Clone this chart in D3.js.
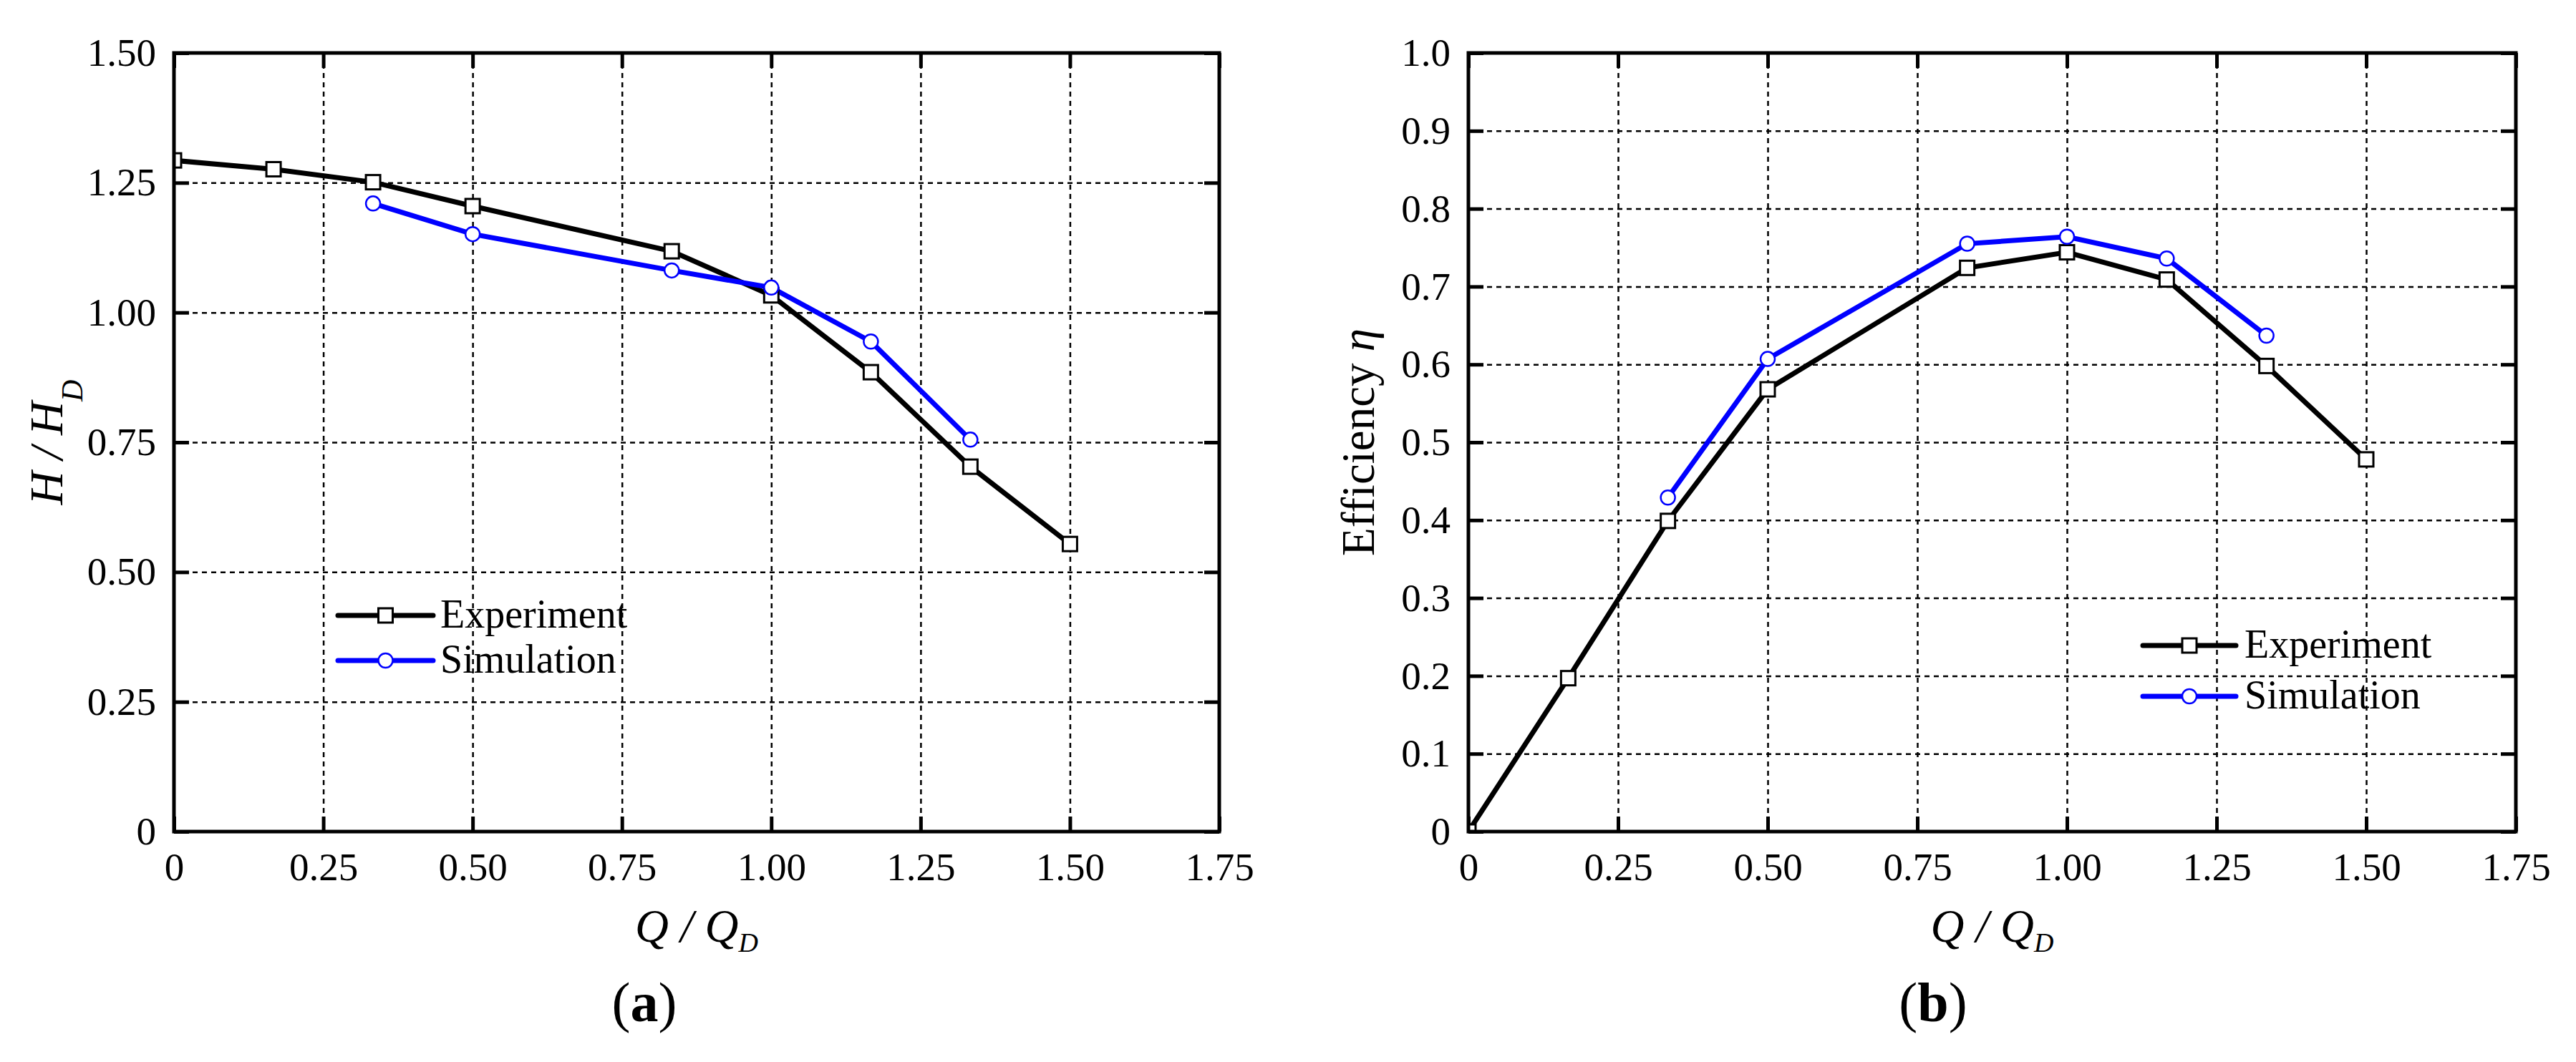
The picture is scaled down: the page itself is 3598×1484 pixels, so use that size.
<!DOCTYPE html>
<html>
<head>
<meta charset="utf-8">
<script src="https://cdn.jsdelivr.net/npm/d3@7"></script>
<style>
  body { margin: 0; background: #fff; }
  text { font-family: "Liberation Serif", "Times New Roman", serif; fill: #000; }
</style>
</head>
<body>
<div id="wrapper"></div>
<script>
// flow ratio Q/QD at the measured points
const flowExperiment = [0, 0.1667, 0.3333, 0.5, 0.8333, 1.0, 1.1667, 1.3333, 1.5];
const flowSimulation = [0.3333, 0.5, 0.8333, 1.0, 1.1667, 1.3333];

// (a) head ratio H/HD
const headExperiment = [1.293, 1.276, 1.251, 1.205, 1.118, 1.033, 0.885, 0.703, 0.554];
const headSimulation = [1.21, 1.151, 1.081, 1.048, 0.944, 0.755];

// (b) efficiency
const effExperiment = [0, 0.197, 0.399, 0.568, 0.724, 0.744, 0.709, 0.598, 0.478];
const effSimulation = [0.429, 0.607, 0.755, 0.764, 0.736, 0.637];

const xTicks = [0, 0.25, 0.5, 0.75, 1.0, 1.25, 1.5, 1.75];
const headTicks = [0, 0.25, 0.5, 0.75, 1.0, 1.25, 1.5];
const effTicks = [0, 0.1, 0.2, 0.3, 0.4, 0.5, 0.6, 0.7, 0.8, 0.9, 1.0];

const seriesNames = ["Experiment", "Simulation"];
const panelLabels = ["a", "b"];

const width = 3598;
const height = 1484;

const svg = d3
  .select("#wrapper")
  .append("svg")
  .attr("width", width)
  .attr("height", height);

svg.append("rect").attr("width", width).attr("height", height).attr("fill", "#fff");

const zip = (xs, ys) => xs.map((x, i) => ({ x, y: ys[i] }));

const drawPanel = (cfg, idx) => {
  const dims = {
    left: cfg.left,
    top: 74,
    w: cfg.right - cfg.left,
    h: 1162 - 74,
  };

  const xScale = d3.scaleLinear().domain([0, 1.75]).range([0, dims.w]);
  const yScale = d3.scaleLinear().domain(cfg.yDomain).range([dims.h, 0]);

  const g = svg
    .append("g")
    .attr("transform", `translate(${dims.left},${dims.top})`);

  const clipId = "clip-" + idx;
  g.append("clipPath")
    .attr("id", clipId)
    .append("rect")
    .attr("width", dims.w)
    .attr("height", dims.h);

  // dashed grid
  const xGrid = g
    .append("g")
    .attr("transform", `translate(0,${dims.h})`)
    .call(d3.axisBottom(xScale).tickValues(xTicks).tickSize(-dims.h).tickFormat(""));
  const yGrid = g
    .append("g")
    .call(d3.axisLeft(yScale).tickValues(cfg.yTicks).tickSize(-dims.w).tickFormat(""));
  [xGrid, yGrid].forEach((grid) => {
    grid.select(".domain").remove();
    grid
      .selectAll(".tick line")
      .attr("stroke", "#000")
      .attr("stroke-width", 2.5)
      .attr("stroke-dasharray", "7,6");
  });

  // inward ticks on all four sides
  const tickLen = 21;
  const tickAxes = [
    g.append("g").attr("transform", `translate(0,${dims.h})`)
      .call(d3.axisBottom(xScale).tickValues(xTicks).tickSize(-tickLen).tickFormat("")),
    g.append("g")
      .call(d3.axisTop(xScale).tickValues(xTicks).tickSize(-tickLen).tickFormat("")),
    g.append("g")
      .call(d3.axisLeft(yScale).tickValues(cfg.yTicks).tickSize(-tickLen).tickFormat("")),
    g.append("g").attr("transform", `translate(${dims.w},0)`)
      .call(d3.axisRight(yScale).tickValues(cfg.yTicks).tickSize(-tickLen).tickFormat("")),
  ];
  tickAxes.forEach((a) => {
    a.select(".domain").remove();
    a.selectAll(".tick line").attr("stroke", "#000").attr("stroke-width", 5);
  });

  // tick labels
  const xLabels = g
    .append("g")
    .attr("transform", `translate(0,${dims.h})`)
    .call(
      d3.axisBottom(xScale).tickValues(xTicks).tickSize(0).tickPadding(29)
        .tickFormat((d) => (d === 0 ? "0" : d.toFixed(2)))
    );
  const yLabels = g
    .append("g")
    .call(
      d3.axisLeft(yScale).tickValues(cfg.yTicks).tickSize(0).tickPadding(25)
        .tickFormat((d) => (d === 0 ? "0" : d.toFixed(cfg.decimals)))
    );
  [xLabels, yLabels].forEach((a) => {
    a.select(".domain").remove();
    a.selectAll("text")
      .attr("font-family", "Liberation Serif")
      .attr("font-size", 55)
      .attr("fill", "#000");
  });

  // data
  const plot = g.append("g").attr("clip-path", `url(#${clipId})`);
  const lineGenerator = d3
    .line()
    .x((d) => xScale(d.x))
    .y((d) => yScale(d.y));

  const expData = zip(flowExperiment, cfg.experiment);
  const simData = zip(flowSimulation, cfg.simulation);

  plot.append("path")
    .attr("d", lineGenerator(expData))
    .attr("fill", "none")
    .attr("stroke", "#000")
    .attr("stroke-width", 7);
  plot.append("path")
    .attr("d", lineGenerator(simData))
    .attr("fill", "none")
    .attr("stroke", "#0000ff")
    .attr("stroke-width", 7);

  plot.selectAll(".sq")
    .data(expData)
    .join("rect")
    .attr("class", "sq")
    .attr("x", (d) => xScale(d.x) - 10)
    .attr("y", (d) => yScale(d.y) - 10)
    .attr("width", 20)
    .attr("height", 20)
    .attr("fill", "#fff")
    .attr("stroke", "#000")
    .attr("stroke-width", 3);
  plot.selectAll(".ci")
    .data(simData)
    .join("circle")
    .attr("class", "ci")
    .attr("cx", (d) => xScale(d.x))
    .attr("cy", (d) => yScale(d.y))
    .attr("r", 10)
    .attr("fill", "#fff")
    .attr("stroke", "#0000ff")
    .attr("stroke-width", 2.5);

  // frame
  g.append("rect")
    .attr("width", dims.w)
    .attr("height", dims.h)
    .attr("fill", "none")
    .attr("stroke", "#000")
    .attr("stroke-width", 5);

  // x title
  const xt = svg
    .append("text")
    .attr("x", dims.left + dims.w / 2)
    .attr("y", 1316)
    .attr("text-anchor", "middle")
    .attr("font-size", 65)
    .attr("font-style", "italic");
  xt.append("tspan").text("Q / Q");
  xt.append("tspan").attr("font-size", 38).attr("dy", 14).text("D");

  // y title
  const yt = svg
    .append("text")
    .attr("transform", `translate(${cfg.yTitleX},${dims.top + dims.h / 2}) rotate(-90)`)
    .attr("text-anchor", "middle")
    .attr("font-size", 65);
  cfg.yTitle(yt);

  // legend
  const legendRows = [
    { name: seriesNames[0], color: "#000", marker: "square" },
    { name: seriesNames[1], color: "#0000ff", marker: "circle" },
  ];
  const lg = svg.append("g");
  legendRows.forEach((row, i) => {
    const y = cfg.legend.y[i];
    const x1 = cfg.legend.x1;
    const x2 = cfg.legend.x2;
    const xm = (x1 + x2) / 2;
    lg.append("line")
      .attr("x1", x1).attr("x2", x2).attr("y1", y).attr("y2", y)
      .attr("stroke", row.color)
      .attr("stroke-width", 7)
      .attr("stroke-linecap", "round");
    if (row.marker === "square") {
      lg.append("rect")
        .attr("x", xm - 10).attr("y", y - 10)
        .attr("width", 20).attr("height", 20)
        .attr("fill", "#fff").attr("stroke", "#000").attr("stroke-width", 3);
    } else {
      lg.append("circle")
        .attr("cx", xm).attr("cy", y).attr("r", 10)
        .attr("fill", "#fff").attr("stroke", "#0000ff").attr("stroke-width", 2.5);
    }
    lg.append("text")
      .attr("x", cfg.legend.textX)
      .attr("y", y + 17)
      .attr("font-size", 56)
      .text(row.name);
  });

  // panel label
  const pl = svg
    .append("text")
    .attr("x", cfg.labelX)
    .attr("y", 1427)
    .attr("text-anchor", "middle")
    .attr("font-size", 78);
  pl.append("tspan").text("(");
  pl.append("tspan").attr("font-weight", "bold").text(panelLabels[idx]);
  pl.append("tspan").text(")");
};

const panels = [
  {
    left: 243,
    right: 1703,
    yDomain: [0, 1.5],
    yTicks: headTicks,
    decimals: 2,
    experiment: headExperiment,
    simulation: headSimulation,
    yTitleX: 87,
    yTitle: (t) => {
      t.attr("font-style", "italic");
      t.append("tspan").text("H / H");
      t.append("tspan").attr("font-size", 42).attr("dy", 28).text("D");
    },
    legend: { x1: 472, x2: 605, y: [860, 923], textX: 615 },
    labelX: 900,
  },
  {
    left: 2051,
    right: 3514,
    yDomain: [0, 1.0],
    yTicks: effTicks,
    decimals: 1,
    experiment: effExperiment,
    simulation: effSimulation,
    yTitleX: 1919,
    yTitle: (t) => {
      t.append("tspan").text("Efficiency ");
      t.append("tspan").attr("font-style", "italic").text("η");
    },
    legend: { x1: 2993, x2: 3123, y: [902, 973], textX: 3135 },
    labelX: 2700,
  },
];

panels.forEach(drawPanel);
</script>
</body>
</html>
